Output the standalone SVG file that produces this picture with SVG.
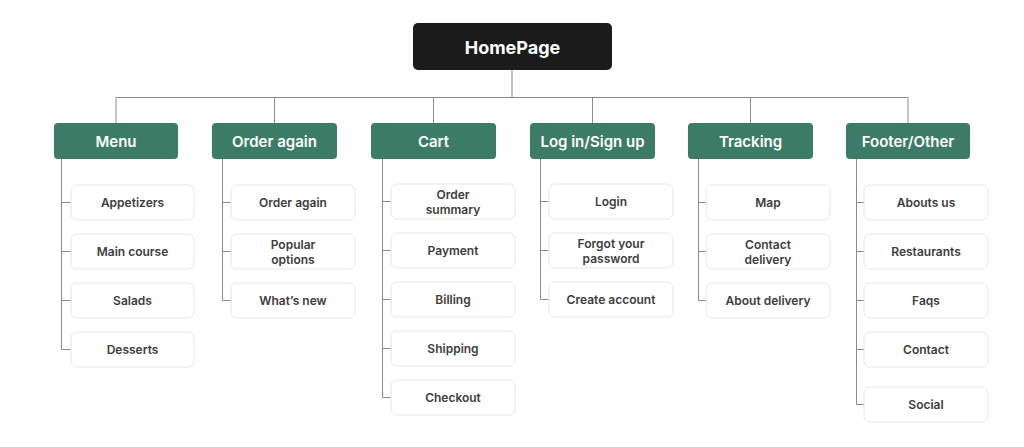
<svg xmlns="http://www.w3.org/2000/svg" width="1024" height="447" viewBox="0 0 1024 447">
<style>
.bg{fill:#ffffff}
.root{fill:#1b1b1b}
.roott{fill:#ffffff;font-family:Inter,"Liberation Sans",sans-serif;font-weight:700;font-size:18px;text-anchor:middle}
.hdr{fill:#3c7c66}
.hdrt{fill:#ffffff;font-family:Inter,"Liberation Sans",sans-serif;font-weight:600;font-size:15px;text-anchor:middle}
.leaf{fill:#ffffff;stroke:#e6e6e6;stroke-width:1}
.leaft{fill:#3d3d3d;font-family:Inter,"Liberation Sans",sans-serif;font-weight:600;font-size:12px;text-anchor:middle}
.ln{fill:none;stroke:#8a8a8a;stroke-width:1}
</style>
<rect class="bg" x="0" y="0" width="1024" height="447"/>
<g id="connectors">
<path class="ln" d="M512 70V97.5M116 97.5H908M116 97.5V123M274.5 97.5V123M433.5 97.5V123M592.5 97.5V123M750.5 97.5V123M908 97.5V123"/>
<path class="ln" d="M61.5 159V349.5H71M61.5 202.5H71M61.5 251.5H71M61.5 300.5H71"/>
<path class="ln" d="M222.5 159V300.5H231M222.5 202.5H231M222.5 251.5H231"/>
<path class="ln" d="M382.5 159V397.5H391M382.5 201.5H391M382.5 250.5H391M382.5 299.5H391M382.5 348.5H391"/>
<path class="ln" d="M540.5 159V299.5H549M540.5 201.5H549M540.5 250.5H549"/>
<path class="ln" d="M698.5 159V300.5H706M698.5 202.5H706M698.5 251.5H706"/>
<path class="ln" d="M856.5 159V404.5H864M856.5 202.5H864M856.5 251.5H864M856.5 300.5H864M856.5 349.5H864"/>
</g>
<g id="homepage"><rect class="root" x="413" y="23" width="199" height="47" rx="5"/><text class="roott" x="512.5" y="53.5">HomePage</text></g>
<g id="menu"><rect class="hdr" x="54" y="123" width="124" height="36" rx="4"/><text class="hdrt" x="116" y="146.5">Menu</text></g>
<g id="order-again"><rect class="hdr" x="212" y="123" width="125" height="36" rx="4"/><text class="hdrt" x="274.5" y="146.5">Order again</text></g>
<g id="cart"><rect class="hdr" x="371" y="123" width="125" height="36" rx="4"/><text class="hdrt" x="433.5" y="146.5">Cart</text></g>
<g id="login"><rect class="hdr" x="530" y="123" width="125" height="36" rx="4"/><text class="hdrt" x="592.5" y="146.5">Log in/Sign up</text></g>
<g id="tracking"><rect class="hdr" x="688" y="123" width="125" height="36" rx="4"/><text class="hdrt" x="750.5" y="146.5">Tracking</text></g>
<g id="footer"><rect class="hdr" x="846" y="123" width="124" height="36" rx="4"/><text class="hdrt" x="908" y="146.5">Footer/Other</text></g>

<g id="appetizers"><rect class="leaf" x="71" y="185" width="123" height="35" rx="6"/><text class="leaft" x="132.5" y="207">Appetizers</text></g>
<g id="main-course"><rect class="leaf" x="71" y="234" width="123" height="35" rx="6"/><text class="leaft" x="132.5" y="256">Main course</text></g>
<g id="salads"><rect class="leaf" x="71" y="283" width="123" height="35" rx="6"/><text class="leaft" x="132.5" y="305">Salads</text></g>
<g id="desserts"><rect class="leaf" x="71" y="332" width="123" height="35" rx="6"/><text class="leaft" x="132.5" y="354">Desserts</text></g>

<g id="order-again-2"><rect class="leaf" x="231" y="185" width="124" height="35" rx="6"/><text class="leaft" x="293" y="207">Order again</text></g>
<g id="popular"><rect class="leaf" x="231" y="234" width="124" height="35" rx="6"/><text class="leaft" x="293" y="249">Popular</text><text class="leaft" x="293" y="264">options</text></g>
<g id="whats-new"><rect class="leaf" x="231" y="283" width="124" height="35" rx="6"/><text class="leaft" x="293" y="305">What’s new</text></g>

<g id="order-summary"><rect class="leaf" x="391" y="184" width="124" height="35" rx="6"/><text class="leaft" x="453" y="199">Order</text><text class="leaft" x="453" y="214">summary</text></g>
<g id="payment"><rect class="leaf" x="391" y="233" width="124" height="35" rx="6"/><text class="leaft" x="453" y="255">Payment</text></g>
<g id="billing"><rect class="leaf" x="391" y="282" width="124" height="35" rx="6"/><text class="leaft" x="453" y="304">Billing</text></g>
<g id="shipping"><rect class="leaf" x="391" y="331" width="124" height="35" rx="6"/><text class="leaft" x="453" y="353">Shipping</text></g>
<g id="checkout"><rect class="leaf" x="391" y="380" width="124" height="35" rx="6"/><text class="leaft" x="453" y="402">Checkout</text></g>

<g id="login-2"><rect class="leaf" x="549" y="184" width="124" height="35" rx="6"/><text class="leaft" x="611" y="206">Login</text></g>
<g id="forgot"><rect class="leaf" x="549" y="233" width="124" height="35" rx="6"/><text class="leaft" x="611" y="248">Forgot your</text><text class="leaft" x="611" y="263">password</text></g>
<g id="create"><rect class="leaf" x="549" y="282" width="124" height="35" rx="6"/><text class="leaft" x="611" y="304">Create account</text></g>

<g id="map"><rect class="leaf" x="706" y="185" width="124" height="35" rx="6"/><text class="leaft" x="768" y="207">Map</text></g>
<g id="contact-delivery"><rect class="leaf" x="706" y="234" width="124" height="35" rx="6"/><text class="leaft" x="768" y="249">Contact</text><text class="leaft" x="768" y="264">delivery</text></g>
<g id="about-delivery"><rect class="leaf" x="706" y="283" width="124" height="35" rx="6"/><text class="leaft" x="768" y="305">About delivery</text></g>

<g id="abouts-us"><rect class="leaf" x="864" y="185" width="124" height="35" rx="6"/><text class="leaft" x="926" y="207">Abouts us</text></g>
<g id="restaurants"><rect class="leaf" x="864" y="234" width="124" height="35" rx="6"/><text class="leaft" x="926" y="256">Restaurants</text></g>
<g id="faqs"><rect class="leaf" x="864" y="283" width="124" height="35" rx="6"/><text class="leaft" x="926" y="305">Faqs</text></g>
<g id="contact"><rect class="leaf" x="864" y="332" width="124" height="35" rx="6"/><text class="leaft" x="926" y="354">Contact</text></g>
<g id="social"><rect class="leaf" x="864" y="387" width="124" height="35" rx="6"/><text class="leaft" x="926" y="409">Social</text></g>
</svg>
